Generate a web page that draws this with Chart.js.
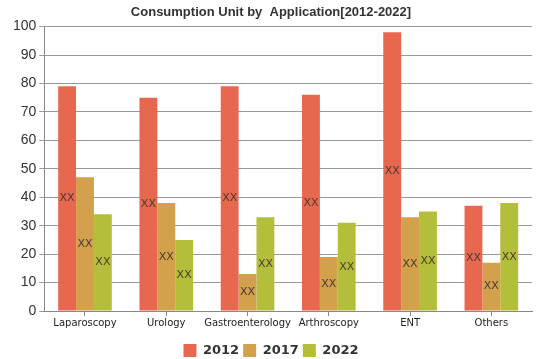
<!DOCTYPE html>
<html><head><meta charset="utf-8">
<script src="https://cdn.jsdelivr.net/npm/chart.js@4"></script>
<style>html,body{margin:0;padding:0;background:#fff}#wrap{width:539px;height:359px}</style>
</head><body><div id="wrap"><canvas id="c"></canvas></div>
<script>
const categories = ["Laparoscopy","Urology","Gastroenterology","Arthroscopy","ENT","Others"];
const series2012 = [79,75,79,76,98,37];
const series2017 = [47,38,13,19,33,17];
const series2022 = [34,25,33,31,35,38];
const yTicks = [0,10,20,30,40,50,60,70,80,90,100];

const labelPlugin = {
  id:'xx',
  afterDatasetsDraw(chart){
    const ctx = chart.ctx;
    ctx.save();
    ctx.font = '11px "DejaVu Sans"';
    ctx.fillStyle = '#4a3a30';
    ctx.textAlign='center';ctx.textBaseline='middle';
    chart.data.datasets.forEach((ds,i)=>{
      chart.getDatasetMeta(i).data.forEach(bar=>{
        ctx.fillText('XX', bar.x, (bar.y+bar.base)/2);
      });
    });
    ctx.restore();
  }
};

new Chart(document.getElementById('c'),{
  type:'bar',
  data:{labels:categories,datasets:[
    {label:'2012',data:series2012,backgroundColor:'#E8674F'},
    {label:'2017',data:series2017,backgroundColor:'#D3A04B'},
    {label:'2022',data:series2022,backgroundColor:'#B3BF3A'}
  ]},
  options:{
    responsive:true,maintainAspectRatio:false,animation:false,
    layout:{padding:{left:10,right:7,top:0,bottom:-8}},
    datasets:{bar:{barPercentage:1,categoryPercentage:0.66}},
    plugins:{
      title:{display:true,text:'Consumption Unit by  Application[2012-2022]',color:'#333',
        font:{family:'"Liberation Sans"',size:13,weight:'bold'},padding:{top:5,bottom:6}},
      legend:{position:'bottom',labels:{boxWidth:13,boxHeight:13,padding:4,color:'#333',
        font:{family:'"DejaVu Sans"',size:13,weight:'bold'}}},
      tooltip:{enabled:false}
    },
    scales:{
      x:{grid:{offset:false,drawOnChartArea:false,drawTicks:true,tickLength:5,color:'#888'},
         border:{color:'#888'},
         afterFit(s){s.height += 10;},
         ticks:{color:'#222',font:{family:'"DejaVu Sans"',size:10},padding:1,maxRotation:0,autoSkip:false}},
      y:{min:0,max:100,afterBuildTicks(s){s.ticks=yTicks.map(v=>({value:v}));},
         grid:{color:'#999',tickLength:5},border:{color:'#888'},
         ticks:{color:'#333',font:{family:'"Liberation Sans"',size:14},padding:3}}
    }
  },
  plugins:[labelPlugin]
});
</script></body></html>
